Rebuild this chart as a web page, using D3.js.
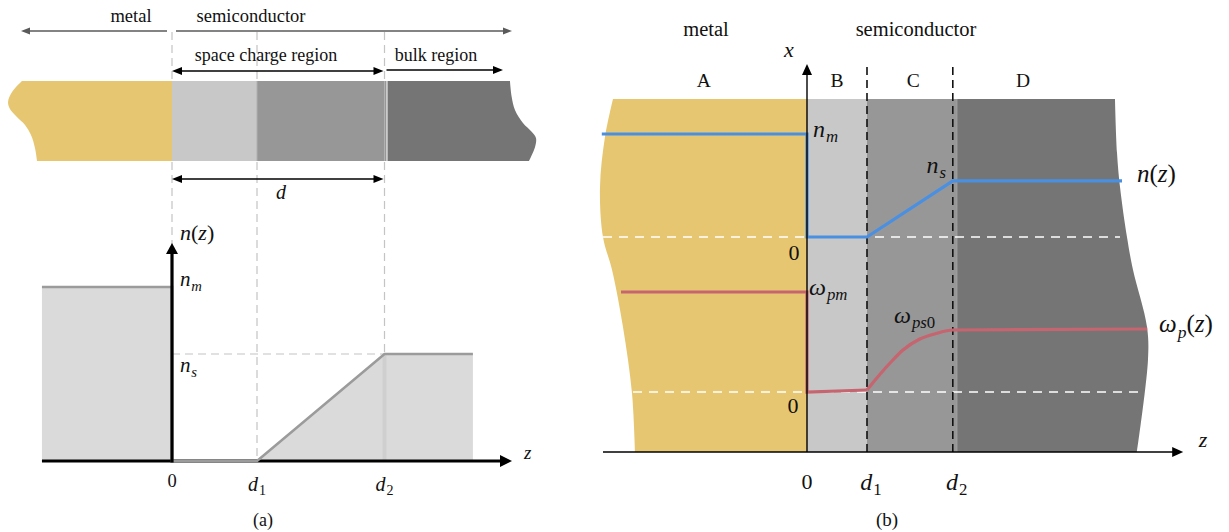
<!DOCTYPE html>
<html>
<head>
<meta charset="utf-8">
<script src="https://cdn.jsdelivr.net/npm/d3@7"></script>
<style>
  html, body { margin: 0; padding: 0; background: #fff; }
  svg { display: block; }
  text { font-family: "Liberation Serif", "Times New Roman", serif; fill: #111; }
</style>
</head>
<body>
<svg id="fig" width="1229" height="532"></svg>
<script>
// ---------------- values ----------------
// interface positions (in units of d1)
const D1 = 1;
const D2_A = 2.5;          // panel (a)
const D2_B = 2.43;         // panel (b)

// panel (a): carrier density profile n(z), normalised to n_m
const densityZ = [-1.53, 0, 0, D1, D2_A, 3.54];
const densityN = [1, 1, 0, 0, 0.615, 0.615];
const nsA = 0.615;

// panel (a) axis ticks
const tickZA = [0, D1, D2_A];
const tickLabelA = [["0"], ["d", "1"], ["d", "2"]];

// panel (b): electron density (blue) normalised to n_m
const densBZ = [-3.42, 0, 0, D1, D2_B, 5.25];
const densBN = [1, 1, 0, 0, 0.544, 0.544];

// panel (b): plasma frequency (red) normalised to omega_pm
const plasmaStepZ = [-3.1, 0, 0, D1];
const plasmaStepW = [1, 1, 0, 0.02];
const plasmaRiseZ = [D1, 1.15, 1.4, 1.6, 1.88, 2.15, D2_B, 5.67];
const plasmaRiseW = [0.02, 0.13, 0.3, 0.42, 0.53, 0.585, 0.62, 0.63];

// panel (b) axis ticks
const tickZB = [0, D1, D2_B];
const tickLabelB = [["0"], ["d", "1"], ["d", "2"]];

// outline of the slab ends: [z, fraction of slab height]
const barLeftA  = [[-1.765,1],[-1.882,0.8625],[-1.929,0.7375],[-1.906,0.65],[-1.824,0.55],[-1.729,0.45],[-1.659,0.325],[-1.612,0.1625],[-1.588,0]];
const barRightA = [[3.976,1],[3.996,0.804],[4.035,0.6375],[4.129,0.475],[4.231,0.366],[4.282,0.2875],[4.271,0.175],[4.2,0]];
const slabLeftB  = [[-3.233,1],[-3.367,0.892],[-3.45,0.751],[-3.4,0.609],[-3.25,0.516],[-3.067,0.354],[-2.917,0.167],[-2.867,0]];
const slabRightB = [[5.133,1],[5.167,0.847],[5.217,0.751],[5.333,0.609],[5.433,0.516],[5.667,0.354],[5.683,0.261],[5.5,0]];

const regionNames = ["A", "B", "C", "D"];
const regionMidZ = [-1.72, 0.5, 1.77, 3.6];

// ---------------- styles ----------------
const GOLD = "#e6c670", LIGHT = "#c8c8c8", MID = "#979797", DARK = "#757575";
const BLUE = "#4a90e2", ROSE = "#c6646f";

const svg = d3.select("#fig");

function head(g, x1, y1, x2, y2, len, wid, color) {
  const a = Math.atan2(y2 - y1, x2 - x1);
  const bx = x2 - len * Math.cos(a), by = y2 - len * Math.sin(a);
  const px = -Math.sin(a) * wid / 2, py = Math.cos(a) * wid / 2;
  g.append("path")
    .attr("d", `M${x2},${y2}L${bx + px},${by + py}L${bx - px},${by - py}Z`)
    .attr("fill", color);
}
function arrow(g, x1, y1, x2, y2, o) {
  const a = Math.atan2(y2 - y1, x2 - x1);
  const sh = o.len * 0.7;
  let sx = x1, sy = y1;
  if (o.both) { sx = x1 + sh * Math.cos(a); sy = y1 + sh * Math.sin(a); }
  g.append("line")
    .attr("x1", sx).attr("y1", sy)
    .attr("x2", x2 - sh * Math.cos(a)).attr("y2", y2 - sh * Math.sin(a))
    .attr("stroke", o.color).attr("stroke-width", o.w);
  head(g, x1, y1, x2, y2, o.len, o.wid, o.color);
  if (o.both) head(g, x2, y2, x1, y1, o.len, o.wid, o.color);
}
// italic symbol with an optional subscript and trailing pieces
function math(g, x, y, size, parts, anchor) {
  const t = g.append("text").attr("x", x).attr("y", y)
    .attr("font-size", size).attr("text-anchor", anchor || "start");
  let down = false;
  parts.forEach(p => {
    const s = t.append("tspan").text(p.t);
    if (p.it !== false) s.attr("font-style", "italic");
    if (p.sub) {
      s.attr("font-size", size * 0.7);
      if (!down) { s.attr("dy", size * 0.22).attr("dx", size * 0.04); down = true; }
    } else if (down) { s.attr("dy", -size * 0.22); down = false; }
  });
  return t;
}
function plain(g, x, y, size, str, anchor) {
  return g.append("text").attr("x", x).attr("y", y).attr("font-size", size)
    .attr("text-anchor", anchor || "middle").text(str);
}
function slabEnd(pts, xs, ys) {
  return d3.line().x(d => xs(d[0])).y(d => ys(d[1])).curve(d3.curveCatmullRom.alpha(0.5))(pts);
}

// =============== panel (a) ===============
const gA = svg.append("g");
const zA = d3.scaleLinear().domain([0, 1]).range([172, 257]);
const nA = d3.scaleLinear().domain([0, 1]).range([461, 287]);
const barH = d3.scaleLinear().domain([0, 1]).range([161, 81]);

// grey guide lines
[0, D1, D2_A].forEach(z => {
  gA.append("line").attr("x1", zA(z)).attr("x2", zA(z)).attr("y1", 32).attr("y2", nA(0))
    .attr("stroke", "#c4c4c4").attr("stroke-width", 1.2).attr("stroke-dasharray", "8,5");
});
gA.append("line").attr("x1", zA(0)).attr("x2", zA(D2_A)).attr("y1", nA(nsA)).attr("y2", nA(nsA))
  .attr("stroke", "#c4c4c4").attr("stroke-width", 1.2).attr("stroke-dasharray", "8,5");

// layered slab
gA.append("path").attr("fill", GOLD)
  .attr("d", slabEnd(barLeftA, zA, barH) + `L${zA(0)},${barH(0)}L${zA(0)},${barH(1)}Z`);
gA.append("rect").attr("x", zA(0)).attr("y", barH(1)).attr("width", zA(D1) - zA(0)).attr("height", barH(0) - barH(1)).attr("fill", LIGHT);
gA.append("rect").attr("x", zA(D1)).attr("y", barH(1)).attr("width", zA(D2_A) - zA(D1) + 2).attr("height", barH(0) - barH(1)).attr("fill", MID);
gA.append("path").attr("fill", DARK)
  .attr("d", `M${zA(D2_A) + 3},${barH(1)}` + slabEnd(barRightA, zA, barH).replace(/^M/, "L") + `L${zA(D2_A) + 3},${barH(0)}Z`);
gA.append("line").attr("x1", zA(D1)).attr("x2", zA(D1)).attr("y1", barH(1)).attr("y2", barH(0)).attr("stroke", "#b0b0b0").attr("stroke-width", 1);
gA.append("line").attr("x1", zA(D2_A)).attr("x2", zA(D2_A)).attr("y1", barH(1)).attr("y2", barH(0)).attr("stroke", "#b2b2b2").attr("stroke-width", 1);

// labels and arrows above the slab
plain(gA, 131, 22, 18.5, "metal");
plain(gA, 251, 22, 18.5, "semiconductor");
arrow(gA, zA(0) - 5, 31, 21, 31, { len: 9, wid: 7, color: "#5a5a5a", w: 1.6 });
arrow(gA, zA(0) + 4, 31, 512, 31, { len: 9, wid: 7, color: "#5a5a5a", w: 1.6 });
plain(gA, 266, 61, 18, "space charge region");
plain(gA, 436, 61, 18, "bulk region");
arrow(gA, zA(0), 71, zA(D2_A) - 1, 71, { len: 10, wid: 8, color: "#000", w: 1.6, both: true });
arrow(gA, zA(D2_A) + 2, 70, 503, 70, { len: 10, wid: 8, color: "#000", w: 1.6 });
arrow(gA, zA(0), 179, zA(D2_A) - 1, 179, { len: 10, wid: 8, color: "#000", w: 1.6, both: true });
math(gA, 281, 199, 20, [{ t: "d" }], "middle");

// density profile
const pA = densityZ.map((z, i) => [z, densityN[i]]);
gA.append("path").attr("fill", "#dadada")
  .attr("d", d3.area().x(d => zA(d[0])).y0(nA(0)).y1(d => nA(d[1]))(pA));
gA.append("rect").attr("x", zA(D2_A) - 2).attr("y", nA(nsA)).attr("width", 4).attr("height", nA(0) - nA(nsA)).attr("fill", "#cfcfcf");
// z axis
arrow(gA, zA(-1.53), nA(0), zA(4.0), nA(0), { len: 12, wid: 12, color: "#000", w: 3.2 });
gA.append("path").attr("fill", "none").attr("stroke", "#9b9b9b").attr("stroke-width", 2.6)
  .attr("d", d3.line().x(d => zA(d[0])).y(d => nA(d[1]))(pA));
// n axis
arrow(gA, zA(0), nA(0) + 1.5, zA(0), 243, { len: 11, wid: 12, color: "#000", w: 3.2 });

math(gA, 180, 240, 22, [{ t: "n" }, { t: "(", it: false }, { t: "z" }, { t: ")", it: false }]);
math(gA, 180, 286, 21, [{ t: "n" }, { t: "m", sub: true }]);
math(gA, 180, 372, 21, [{ t: "n" }, { t: "s", sub: true }]);
math(gA, 524, 459, 19, [{ t: "z" }]);

tickZA.forEach((z, i) => {
  const L = tickLabelA[i];
  if (L.length === 1) plain(gA, zA(z), 487, 18.5, L[0]);
  else math(gA, zA(z), 491, 20, [{ t: L[0] }, { t: L[1], sub: true, it: false }], "middle");
});
plain(gA, 263, 526, 18, "(a)");

// =============== panel (b) ===============
const gB = svg.append("g");
const zB = d3.scaleLinear().domain([0, 1]).range([807, 867]);
const hB = d3.scaleLinear().domain([0, 1]).range([452, 99]);
const nB = d3.scaleLinear().domain([0, 1]).range([237, 134]);
const wB = d3.scaleLinear().domain([0, 1]).range([392, 292]);

// regions A-D
gB.append("path").attr("fill", GOLD)
  .attr("d", slabEnd(slabLeftB, zB, hB) + `L${zB(0)},${hB(0)}L${zB(0)},${hB(1)}Z`);
gB.append("rect").attr("x", zB(0)).attr("y", hB(1)).attr("width", zB(D1) - zB(0)).attr("height", hB(0) - hB(1)).attr("fill", LIGHT);
gB.append("rect").attr("x", zB(D1)).attr("y", hB(1)).attr("width", zB(D2_B) - zB(D1) + 4).attr("height", hB(0) - hB(1)).attr("fill", MID);
gB.append("path").attr("fill", DARK)
  .attr("d", `M${zB(D2_B) + 4},${hB(1)}` + slabEnd(slabRightB, zB, hB).replace(/^M/, "L") + `L${zB(D2_B) + 4},${hB(0)}Z`);
gB.append("line").attr("x1", zB(D2_B) + 4.5).attr("x2", zB(D2_B) + 4.5).attr("y1", hB(1)).attr("y2", hB(0)).attr("stroke", "#8c8c8c").attr("stroke-width", 1);

// zero reference lines
gB.append("line").attr("x1", zB(-3.4)).attr("x2", zB(5.217)).attr("y1", nB(0)).attr("y2", nB(0))
  .attr("stroke", "#fff").attr("stroke-width", 1.6).attr("stroke-dasharray", "9,7");
gB.append("line").attr("x1", zB(-2.9)).attr("x2", zB(5.6)).attr("y1", wB(0)).attr("y2", wB(0))
  .attr("stroke", "#fff").attr("stroke-width", 1.6).attr("stroke-dasharray", "9,7");

// interfaces d1, d2
[D1, D2_B].forEach(z => {
  gB.append("line").attr("x1", zB(z)).attr("x2", zB(z)).attr("y1", 67).attr("y2", hB(0))
    .attr("stroke", "#111").attr("stroke-width", 1.6).attr("stroke-dasharray", "8,5");
});

// curves
const lineB = (ys) => d3.line().x(d => zB(d[0])).y(d => ys(d[1]));
gB.append("path").attr("fill", "none").attr("stroke", BLUE).attr("stroke-width", 3.2)
  .attr("d", lineB(nB)(densBZ.map((z, i) => [z, densBN[i]])));
gB.append("path").attr("fill", "none").attr("stroke", ROSE).attr("stroke-width", 3.2)
  .attr("d", lineB(wB)(plasmaStepZ.map((z, i) => [z, plasmaStepW[i]])));
gB.append("path").attr("fill", "none").attr("stroke", ROSE).attr("stroke-width", 3.2)
  .attr("d", lineB(wB).curve(d3.curveMonotoneX)(plasmaRiseZ.map((z, i) => [z, plasmaRiseW[i]])));

// axes
arrow(gB, zB(-3.4), hB(0), zB(6.27), hB(0), { len: 11, wid: 10, color: "#000", w: 1.4 });
arrow(gB, zB(0), hB(0), zB(0), 64, { len: 11, wid: 10, color: "#000", w: 1.4 });

// texts
plain(gB, 706, 36, 20.5, "metal");
plain(gB, 916, 36, 20.5, "semiconductor");
math(gB, 789, 57, 22, [{ t: "x" }], "middle");
regionNames.forEach((r, i) => plain(gB, zB(regionMidZ[i]), 87, 19.5, r));

math(gB, 813, 137, 24, [{ t: "n" }, { t: "m", sub: true }]);
math(gB, 946, 173, 24, [{ t: "n" }, { t: "s", sub: true }], "end");
math(gB, 1137, 182, 25, [{ t: "n" }, { t: "(", it: false }, { t: "z" }, { t: ")", it: false }]);
plain(gB, 794, 260, 22, "0");

math(gB, 809, 295, 24, [{ t: "ω" }, { t: "pm", sub: true }]);
math(gB, 894, 323, 24, [{ t: "ω" }, { t: "ps", sub: true }, { t: "0", sub: true, it: false }]);
math(gB, 1159, 332, 25, [{ t: "ω" }, { t: "p", sub: true }, { t: "(", it: false }, { t: "z" }, { t: ")", it: false }]);
plain(gB, 793, 413, 22, "0");
math(gB, 1203, 447, 22, [{ t: "z" }], "middle");

tickZB.forEach((z, i) => {
  const L = tickLabelB[i];
  if (L.length === 1) plain(gB, zB(z), 489, 22, L[0]);
  else math(gB, zB(z) + 4, 490, 24, [{ t: L[0] }, { t: L[1], sub: true, it: false }], "middle");
});
plain(gB, 887, 526, 19, "(b)");
</script>
</body>
</html>
